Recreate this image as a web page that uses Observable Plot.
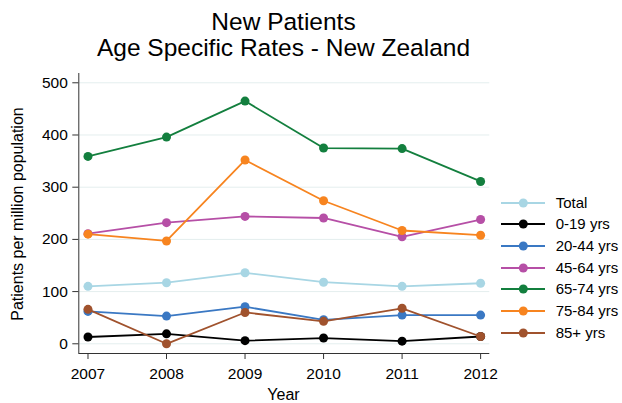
<!DOCTYPE html>
<html>
<head>
<meta charset="utf-8">
<script src="https://cdn.jsdelivr.net/npm/d3@7"></script>
<script src="https://cdn.jsdelivr.net/npm/@observablehq/plot@0.6"></script>
<style>
  html, body { margin: 0; padding: 0; background: #fff; }
  #wrap { position: relative; width: 622px; height: 403px; overflow: hidden; font-family: "Liberation Sans", Arial, Helvetica, sans-serif; color: #000; }
  #wrap svg { display: block; }
  .title { position: absolute; left: 0; width: 567px; text-align: center; font-size: 24.5px; line-height: 26px; white-space: nowrap; }
  .ylab { position: absolute; left: 17.5px; top: 214px; transform: translate(-50%, -50%) rotate(-90deg); font-size: 16px; white-space: nowrap; line-height: 18px; }
  .xlab { position: absolute; left: 0; width: 567px; text-align: center; font-size: 16px; line-height: 14px; }
  .leg { position: absolute; left: 501px; height: 20px; width: 121px; }
  .leg svg { position: absolute; left: 0; top: 0; }
  .leg span { position: absolute; left: 54.7px; top: 0; font-size: 15px; line-height: 20px; white-space: nowrap; }
</style>
</head>
<body>
<div id="wrap"></div>
<script>
// ---- data ----
const years = [2007, 2008, 2009, 2010, 2011, 2012];
const seriesNames = ["Total", "0-19 yrs", "20-44 yrs", "45-64 yrs", "65-74 yrs", "75-84 yrs", "85+ yrs"];
const seriesColors = ["#a8d6e4", "#000000", "#3a78c3", "#b64fa6", "#137f3e", "#f7841f", "#a0522d"];
const total    = [110, 117, 136, 118, 110, 116];
const age0_19  = [13, 19, 6, 11, 5, 14];
const age20_44 = [62, 53, 71, 46, 55, 55];
const age45_64 = [211, 232, 244, 241, 205, 238];
const age65_74 = [359, 396, 465, 375, 374, 311];
const age75_84 = [210, 197, 352, 274, 217, 208];
const age85    = [66, 0, 60, 43, 68, 14];
const yTicks = [0, 100, 200, 300, 400, 500];
const titleLines = ["New Patients", "Age Specific Rates - New Zealand"];
const yLabel = "Patients per million population";
const xLabel = "Year";

// ---- build ----
const seriesValues = [total, age0_19, age20_44, age45_64, age65_74, age75_84, age85];
const data = seriesNames.flatMap((name, i) =>
  seriesValues[i].map((v, j) => ({series: name, year: years[j], value: v})));

const xPad = 0.117;
const xDomain = [d3.min(years) - xPad, d3.max(years) + xPad];
const yDomain = [-18.6, 517.8];

const seriesMarks = seriesNames.flatMap(name => {
  const d = data.filter(r => r.series === name);
  return [
    Plot.line(d, {x: "year", y: "value", stroke: "series", strokeWidth: 1.8}),
    Plot.dot(d, {x: "year", y: "value", fill: "series", r: 4.5, stroke: "none"})
  ];
});

const chart = Plot.plot({
  width: 622,
  height: 403,
  marginTop: 73,
  marginBottom: 50,
  marginLeft: 78.3,
  marginRight: 132.7,
  style: {fontFamily: "'Liberation Sans', Arial, Helvetica, sans-serif", fontSize: "15px", background: "white", color: "#000"},
  x: {domain: xDomain},
  y: {domain: yDomain},
  color: {domain: seriesNames, range: seriesColors},
  marks: [
    Plot.gridY(yTicks, {stroke: "#e4eeee", strokeOpacity: 1, strokeWidth: 1}),
    Plot.ruleX([xDomain[0]], {stroke: "#333", strokeWidth: 1}),
    Plot.ruleY([yDomain[0]], {stroke: "#333", strokeWidth: 1}),
    Plot.axisY(yTicks, {tickSize: 6, tickPadding: 5, fontSize: 15.5, label: null, stroke: "#333", fill: "#000"}),
    Plot.axisX(years, {tickSize: 6, tickPadding: 8, fontSize: 15.5, label: null, tickFormat: d => String(d), stroke: "#333", fill: "#000"}),
    ...seriesMarks
  ]
});

const wrap = document.getElementById("wrap");
wrap.appendChild(chart);

// titles
const titleTops = [9, 35];
titleLines.forEach((t, i) => {
  const el = document.createElement("div");
  el.className = "title";
  el.style.top = titleTops[i] + "px";
  el.textContent = t;
  wrap.appendChild(el);
});

// axis titles
const yl = document.createElement("div");
yl.className = "ylab";
yl.textContent = yLabel;
wrap.appendChild(yl);
const xl = document.createElement("div");
xl.className = "xlab";
xl.style.top = "388px";
xl.textContent = xLabel;
wrap.appendChild(xl);

// legend
const legTop = 202.7, legStep = 21.67;
seriesNames.forEach((name, i) => {
  const row = document.createElement("div");
  row.className = "leg";
  row.style.top = (legTop + i * legStep - 10) + "px";
  const ns = "http://www.w3.org/2000/svg";
  const s = document.createElementNS(ns, "svg");
  s.setAttribute("width", 46); s.setAttribute("height", 20);
  const ln = document.createElementNS(ns, "line");
  ln.setAttribute("x1", 0); ln.setAttribute("x2", 44); ln.setAttribute("y1", 10); ln.setAttribute("y2", 10);
  ln.setAttribute("stroke", seriesColors[i]); ln.setAttribute("stroke-width", 2);
  const c = document.createElementNS(ns, "circle");
  c.setAttribute("cx", 22.3); c.setAttribute("cy", 10); c.setAttribute("r", 4.5);
  c.setAttribute("fill", seriesColors[i]);
  s.appendChild(ln); s.appendChild(c);
  const sp = document.createElement("span");
  sp.textContent = name;
  row.appendChild(s); row.appendChild(sp);
  wrap.appendChild(row);
});
</script>
</body>
</html>
